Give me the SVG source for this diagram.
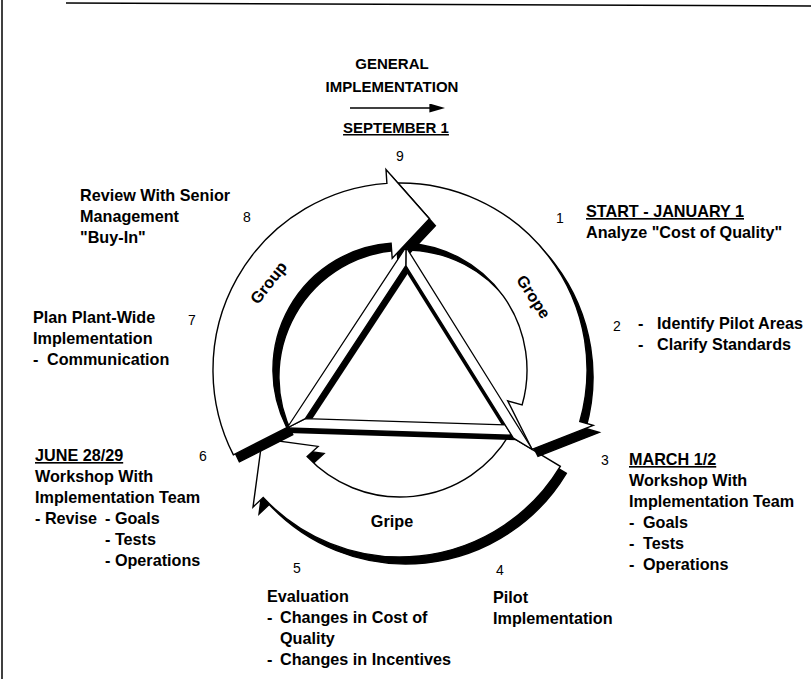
<svg xmlns="http://www.w3.org/2000/svg" width="811" height="679" viewBox="0 0 811 679">
<style>
  .t{font-family:"Liberation Sans",Arial,Helvetica,sans-serif;font-weight:bold;font-size:16.2px;fill:#000}
  .n{font-family:"Liberation Sans",Arial,Helvetica,sans-serif;font-size:14px;fill:#000}
  .h{font-size:15px}
  .u{text-decoration:underline}
  .band{fill:#fff;stroke:#000;stroke-width:1.4;stroke-linejoin:miter}
  .shadow{fill:#000;stroke:#000;stroke-width:1.4}
  .bar{fill:#fff;stroke:#000;stroke-width:1.3;stroke-linejoin:round}
  .dark{fill:#000;stroke:none}
  .rule{stroke:#000;stroke-width:1.5;fill:none}
</style>
<defs>
  <path id="gripeShape" d="M560.3,466.3 A187,187 0 0 1 263.2,497.5 L253.0,507.1 L262.2,438.7 L318.1,446.4 L307.1,456.6 A127,127 0 0 0 508.9,435.4 Z"/>
  <path id="gropeShape" d="M397.9,183.0 A187,187 0 0 1 579.8,421.5 L593.2,425.4 L532.0,449.3 L507.7,400.9 L522.1,405.0 A127,127 0 0 0 406.5,243.2 L429.4,218.8 Z"/>
  <path id="groupShape" d="M233.4,454.9 A187,187 0 0 1 386.9,183.4 L386.0,169.5 L429.4,218.8 L392.2,258.3 L391.1,243.3 A127,127 0 0 0 286.8,427.7 Z"/>
  <marker id="ah" viewBox="0 0 10 10" refX="1" refY="5" markerWidth="16" markerHeight="9" markerUnits="userSpaceOnUse" orient="auto" preserveAspectRatio="none">
    <path d="M0,0 L10,5 L0,10 Z" fill="#000"/>
  </marker>
</defs>
<rect width="811" height="679" fill="#fff"/>

<g id="frame">
  <line class="rule" x1="2" y1="0" x2="2" y2="679"/>
  <line class="rule" x1="66" y1="3" x2="811" y2="6"/>
</g>

<g id="arrow-gripe">
  <use href="#gripeShape" class="shadow" transform="translate(6,7)"/>
  <use href="#gripeShape" class="band"/>
  <text class="t" x="392" y="527" text-anchor="middle">Gripe</text>
</g>

<g id="arrow-grope">
  <use href="#gropeShape" class="shadow" transform="translate(6,7)"/>
  <use href="#gropeShape" class="band"/>
  <text class="t" transform="translate(533,297) rotate(57)" x="0" y="5" text-anchor="middle">Grope</text>
</g>

<g id="arrow-group">
  <use href="#groupShape" class="shadow" transform="translate(6,7)"/>
  <use href="#groupShape" class="band"/>
  <text class="t" transform="translate(269,283) rotate(-52)" x="0" y="5" text-anchor="middle">Group</text>
</g>

<g id="triangle">
  <polygon class="dark" points="405.8,265.6 305.3,418.6 310.3,421.9 410.8,268.9"/>
  <polygon class="dark" points="287,428 518,435.3 518,440.3 287,433"/>
  <polygon class="dark" points="405.8,265.6 513.4,438.1 510.9,439.7 403.2,267.2"/>
  <polygon class="bar" points="287,428 511.6,435.1 505.2,424.9 305.3,418.6"/>
  <polygon class="bar" points="406,247 532.4,449.5 513.4,438.1 405.8,265.6"/>
  <polygon class="bar" points="406,247 287,428 305.3,418.6 405.8,265.6"/>
</g>

<g id="connectors">
  <line x1="350" y1="108" x2="431" y2="108" stroke="#000" stroke-width="1.5" marker-end="url(#ah)"/>
</g>

<g id="general-implementation">
  <text class="t h" x="392" y="69" text-anchor="middle">GENERAL</text>
  <text class="t h" x="392" y="92" text-anchor="middle">IMPLEMENTATION</text>
  <text class="t h u" x="396" y="133" text-anchor="middle">SEPTEMBER 1</text>
  <text class="n" x="400" y="161" text-anchor="middle">9</text>
</g>

<g id="step-1">
  <text class="n" x="556" y="223">1</text>
  <text class="t u" x="586" y="217">START - JANUARY 1</text>
  <text class="t" x="586" y="238">Analyze "Cost of Quality"</text>
</g>

<g id="step-2">
  <text class="n" x="613" y="331">2</text>
  <text class="t" y="329"><tspan x="638">-</tspan><tspan x="657">Identify Pilot Areas</tspan></text>
  <text class="t" y="350"><tspan x="638">-</tspan><tspan x="657">Clarify Standards</tspan></text>
</g>

<g id="step-3">
  <text class="n" x="601" y="465">3</text>
  <text class="t u" x="629" y="465">MARCH 1/2</text>
  <text class="t" x="629" y="486">Workshop With</text>
  <text class="t" x="629" y="507">Implementation Team</text>
  <text class="t" y="528"><tspan x="629">-</tspan><tspan x="643">Goals</tspan></text>
  <text class="t" y="549"><tspan x="629">-</tspan><tspan x="643">Tests</tspan></text>
  <text class="t" y="570"><tspan x="629">-</tspan><tspan x="643">Operations</tspan></text>
</g>

<g id="step-4">
  <text class="n" x="496" y="575">4</text>
  <text class="t" x="493" y="603">Pilot</text>
  <text class="t" x="493" y="624">Implementation</text>
</g>

<g id="step-5">
  <text class="n" x="293" y="573">5</text>
  <text class="t" x="267" y="602">Evaluation</text>
  <text class="t" y="623"><tspan x="267">-</tspan><tspan x="280">Changes in Cost of</tspan></text>
  <text class="t" x="280" y="644">Quality</text>
  <text class="t" y="665"><tspan x="267">-</tspan><tspan x="280">Changes in Incentives</tspan></text>
</g>

<g id="step-6">
  <text class="n" x="199" y="461">6</text>
  <text class="t u" x="35" y="461">JUNE 28/29</text>
  <text class="t" x="35" y="482">Workshop With</text>
  <text class="t" x="35" y="503">Implementation Team</text>
  <text class="t" y="524"><tspan x="35">- Revise</tspan><tspan x="105">- Goals</tspan></text>
  <text class="t" x="105" y="545">- Tests</text>
  <text class="t" x="105" y="566">- Operations</text>
</g>

<g id="step-7">
  <text class="n" x="188" y="325">7</text>
  <text class="t" x="33" y="323">Plan Plant-Wide</text>
  <text class="t" x="33" y="344">Implementation</text>
  <text class="t" y="365"><tspan x="33">-</tspan><tspan x="47">Communication</tspan></text>
</g>

<g id="step-8">
  <text class="n" x="243" y="222">8</text>
  <text class="t" x="80" y="201">Review With Senior</text>
  <text class="t" x="80" y="222">Management</text>
  <text class="t" x="80" y="243">"Buy-In"</text>
</g>
</svg>
